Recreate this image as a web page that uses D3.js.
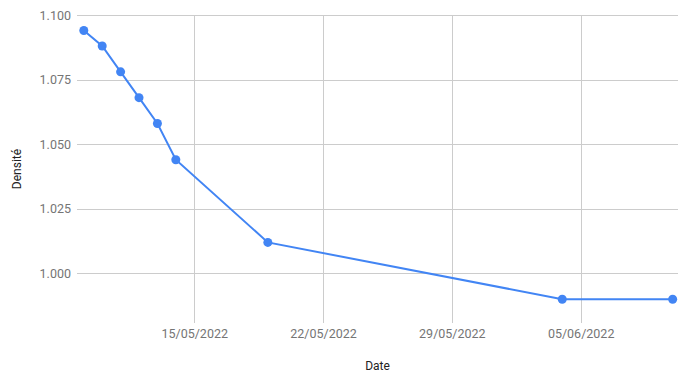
<!DOCTYPE html>
<html>
<head>
<meta charset="utf-8">
<script src="https://cdn.jsdelivr.net/npm/d3@7"></script>
<style>
  body { margin: 0; background: #fff; }
  svg { font-family: Roboto, Arial, sans-serif; }
</style>
</head>
<body>
<div id="chart"></div>
<script>
// Data
const dates = ['2022-05-09', '2022-05-10', '2022-05-11', '2022-05-12', '2022-05-13',
               '2022-05-14', '2022-05-19', '2022-06-04', '2022-06-10'];
const density = [1.094, 1.088, 1.078, 1.068, 1.058, 1.044, 1.012, 0.990, 0.990];
const yTicks = [1.000, 1.025, 1.050, 1.075, 1.100];
const xTicks = ['2022-05-15', '2022-05-22', '2022-05-29', '2022-06-05'];

const width = 690;
const height = 380;
const margin = { top: 15, right: 12, bottom: 57, left: 77 };

const parse = d3.timeParse('%Y-%m-%d');
const data = dates.map((d, i) => ({ date: parse(d), value: density[i] }));

const svg = d3.select('#chart')
    .append('svg')
    .attr('width', width)
    .attr('height', height);

const day = 24 * 3600 * 1000;
const x = d3.scaleTime()
    .domain([new Date(+parse('2022-05-09') - 0.37 * day), new Date(+parse('2022-06-10') + 0.29 * day)])
    .range([margin.left, width - margin.right]);

const y = d3.scaleLinear()
    .domain([0.9808, 1.100])
    .range([height - margin.bottom, margin.top]);

// Horizontal gridlines
svg.append('g')
    .selectAll('line')
    .data(yTicks)
    .enter()
    .append('line')
    .attr('x1', margin.left)
    .attr('x2', width - margin.right)
    .attr('y1', d => Math.round(y(d)) + 0.5)
    .attr('y2', d => Math.round(y(d)) + 0.5)
    .attr('stroke', '#cccccc');

// Vertical gridlines
svg.append('g')
    .selectAll('line')
    .data(xTicks.map(parse))
    .enter()
    .append('line')
    .attr('x1', d => Math.round(x(d)) + 0.5)
    .attr('x2', d => Math.round(x(d)) + 0.5)
    .attr('y1', margin.top)
    .attr('y2', height - margin.bottom)
    .attr('stroke', '#cccccc');

// Y axis labels
const yAxis = d3.axisLeft(y)
    .tickValues(yTicks)
    .tickFormat(d3.format('.3f'))
    .tickSize(0)
    .tickPadding(6);

svg.append('g')
    .attr('transform', `translate(${margin.left}, 0)`)
    .call(yAxis)
    .call(g => g.select('.domain').remove())
    .selectAll('text')
    .attr('fill', '#757575')
    .style('font-size', '12.5px')
    .style('font-family', 'Roboto, Arial, sans-serif');

// X axis labels
const xAxis = d3.axisBottom(x)
    .tickValues(xTicks.map(parse))
    .tickFormat(d3.timeFormat('%d/%m/%Y'))
    .tickSize(0)
    .tickPadding(6);

svg.append('g')
    .attr('transform', `translate(0, ${height - margin.bottom})`)
    .call(xAxis)
    .call(g => g.select('.domain').remove())
    .selectAll('text')
    .attr('fill', '#757575')
    .style('font-size', '12.5px')
    .style('font-family', 'Roboto, Arial, sans-serif');

// Axis titles
svg.append('text')
    .attr('x', (margin.left + width - margin.right) / 2)
    .attr('y', 370)
    .attr('text-anchor', 'middle')
    .attr('fill', '#222')
    .style('font-size', '12px')
    .text('Date');

svg.append('text')
    .attr('transform', `translate(21, ${(margin.top + height - margin.bottom) / 2}) rotate(-90)`)
    .attr('text-anchor', 'middle')
    .attr('fill', '#222')
    .style('font-size', '12px')
    .text('Densité');

// Line
const line = d3.line()
    .x(d => x(d.date))
    .y(d => y(d.value));

svg.append('path')
    .datum(data)
    .attr('fill', 'none')
    .attr('stroke', '#4285f4')
    .attr('stroke-width', 2)
    .attr('d', line);

// Points
svg.append('g')
    .selectAll('circle')
    .data(data)
    .enter()
    .append('circle')
    .attr('cx', d => x(d.date))
    .attr('cy', d => y(d.value))
    .attr('r', 4.5)
    .attr('fill', '#4285f4');
</script>
</body>
</html>
